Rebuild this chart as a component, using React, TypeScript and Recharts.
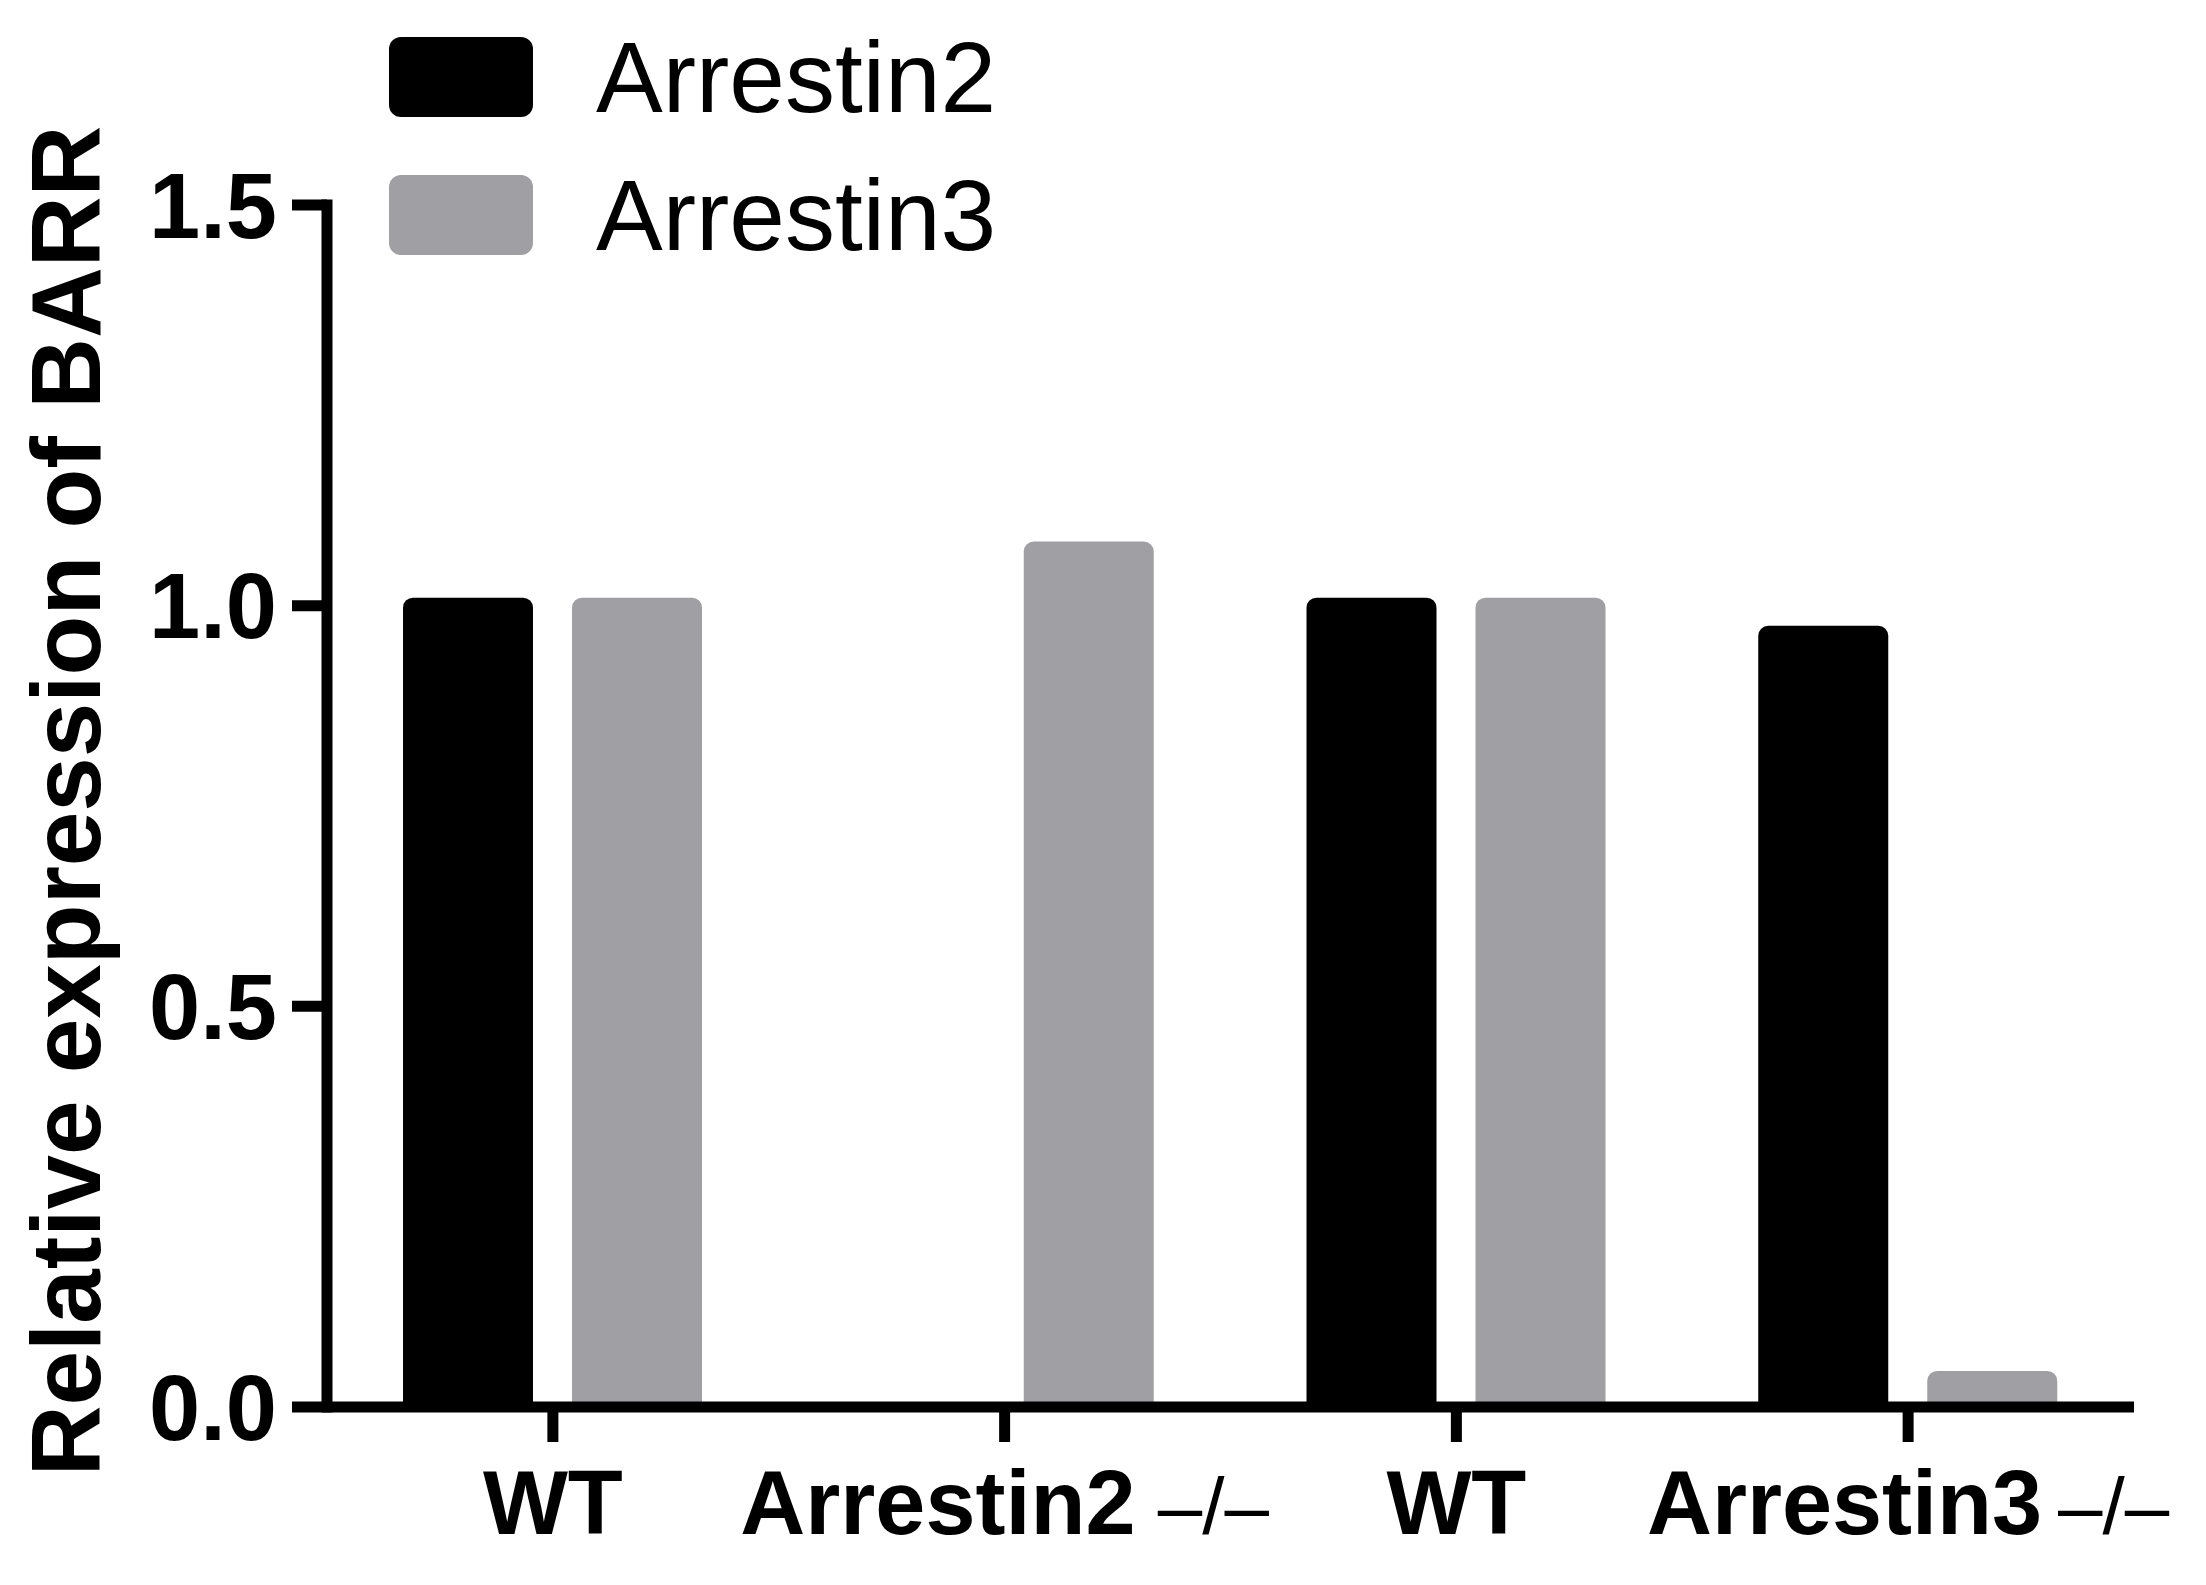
import { BarChart, Bar, XAxis, YAxis, Legend } from "recharts";

const groups = ["WT", "Arrestin2", "WT", "Arrestin3"];
const groupSuffix = ["", " \u2013/\u2013", "", "\u2009\u2013/\u2013"];
const arrestin2 = [1.01, 0, 1.01, 0.975];
const arrestin3 = [1.01, 1.08, 1.01, 0.045];
const yTicks = [0, 0.5, 1.0, 1.5];

const FONT = '"Liberation Sans", Arial, Helvetica, sans-serif';
const GRAY = "#a0a0a4";

const data = groups.map((g, i) => ({
  group: g,
  suffix: groupSuffix[i],
  arrestin2: arrestin2[i],
  arrestin3: arrestin3[i],
}));

function GroupTick(props: any) {
  const { x, y, index, payload } = props;
  const i = index ?? payload?.index ?? 0;
  const suffix = groupSuffix[i];
  return (
    <text x={x} y={y} dy="0.71em" textAnchor="middle" fontFamily={FONT} fontSize={90} fill="#000">
      <tspan fontWeight="bold">{payload.value}</tspan>
      {suffix ? (
        <tspan fontWeight="normal" fontSize={80}>
          {suffix}
        </tspan>
      ) : null}
    </text>
  );
}

function LegendBox({ payload }: any) {
  return (
    <div style={{ fontFamily: FONT }}>
      {(payload || []).map((item: any, i: number) => (
        <div
          key={i}
          style={{ display: "flex", alignItems: "center", height: 80, marginBottom: i === 0 ? 58 : 0 }}
        >
          <div style={{ width: 144, height: 80, background: item.color, borderRadius: 12 }} />
          <span style={{ marginLeft: 63, fontSize: 100, lineHeight: "80px", color: "#000" }}>{item.value}</span>
        </div>
      ))}
    </div>
  );
}

function YLabel({ viewBox }: any) {
  const x = viewBox.x + 100;
  const y = viewBox.y + viewBox.height / 2 - 5;
  return (
    <text
      x={x}
      y={y}
      transform={`rotate(-90, ${x}, ${y})`}
      textAnchor="middle"
      fontFamily={FONT}
      fontWeight="bold"
      fontSize={98}
      fill="#000"
    >
      Relative expression of BARR
    </text>
  );
}

export default function App() {
  return (
    <div style={{ position: "absolute", left: 0, top: 0, width: 2206, height: 1585, background: "#fff" }}>
      <BarChart
        width={2206}
        height={1585}
        data={data}
        margin={{ top: 205, right: 72, bottom: 0, left: 0 }}
        barSize={130}
        barGap={39}
      >
        <XAxis
          dataKey="group"
          height={178}
          axisLine={{ stroke: "#000", strokeWidth: 11 }}
          tickLine={{ stroke: "#000", strokeWidth: 11 }}
          tickSize={35}
          tickMargin={28}
          tick={<GroupTick />}
          interval={0}
        />
        <YAxis
          width={327}
          domain={[0, 1.5]}
          ticks={yTicks}
          interval={0}
          tickFormatter={(v: number) => v.toFixed(1)}
          axisLine={{ stroke: "#000", strokeWidth: 11, strokeLinecap: "square" }}
          tickLine={{ stroke: "#000", strokeWidth: 11 }}
          tickSize={35}
          tickMargin={15}
          tick={{ fill: "#000", fontSize: 92, fontWeight: "bold", fontFamily: FONT }}
          label={{ content: <YLabel /> }}
        />
        <Legend
          layout="vertical"
          align="center"
          verticalAlign="middle"
          wrapperStyle={{ left: 389, top: 37, width: 700 }}
          content={<LegendBox />}
        />
        <Bar dataKey="arrestin2" name="Arrestin2" fill="#000" radius={[10, 10, 0, 0]} isAnimationActive={false} />
        <Bar dataKey="arrestin3" name="Arrestin3" fill={GRAY} radius={[10, 10, 0, 0]} isAnimationActive={false} />
      </BarChart>
    </div>
  );
}
